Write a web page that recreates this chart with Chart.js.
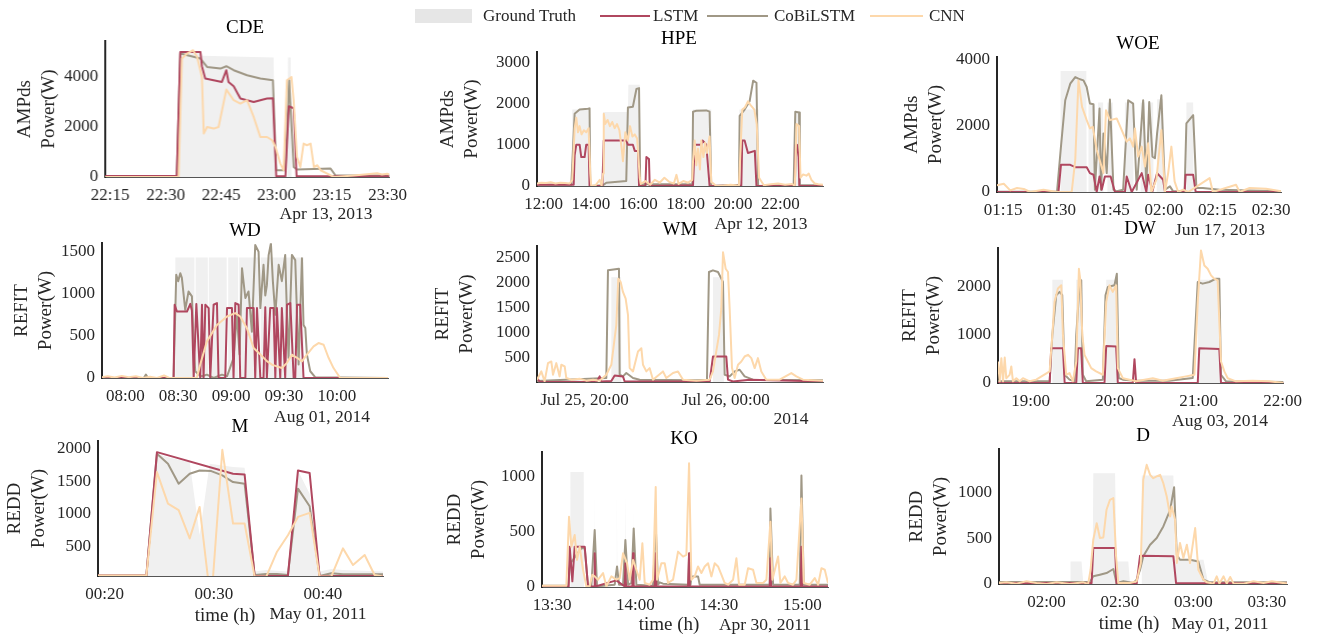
<!DOCTYPE html>
<html><head><meta charset="utf-8">
<script src="https://cdn.jsdelivr.net/npm/chart.js@4.4.1/dist/chart.umd.min.js"></script>
<style>
html,body{margin:0;padding:0;background:#fff;}
body{width:1325px;height:636px;position:relative;overflow:hidden;font-family:'Liberation Serif','Times New Roman',serif;color:#000;}
.t{position:absolute;transform:translate(-50%,-50%);white-space:nowrap;line-height:1.15;z-index:5;}
.l{position:absolute;transform:translate(0,-50%);white-space:nowrap;line-height:1.15;font-size:17px;color:#262626;z-index:5;}
canvas{position:absolute;}
</style></head><body>
<script>
// ---------- CDE (minutes after 22:00) ----------
const CDE_GT_X = [13.6, 33.0, 33.9, 39.4, 40.0, 59.2, 59.6, 62.9, 63.1, 63.8, 64.0, 90.6];
const CDE_GT_Y = [0, 0, 5000, 5000, 4850, 4780, 0, 0, 4780, 4780, 0, 0];
const CDE_LSTM_X = [13.6, 33.0, 33.95, 39.4, 39.8, 40.7, 45.2, 46.4, 47.0, 48.4, 50.2, 52.0, 53.8, 55.6, 57.4, 59.0, 59.9, 62.4, 63.3, 64.6, 65.4, 90.6];
const CDE_LSTM_Y = [40, 40, 5000, 5000, 4430, 3935, 3800, 4270, 3800, 3630, 3135, 3070, 3000, 3070, 3135, 3150, 30, 30, 2830, 2750, 30, 30];
const CDE_COBI_X = [13.6, 33.0, 33.95, 39.4, 41.2, 44.8, 46.4, 48.4, 52.0, 55.6, 59.0, 59.9, 62.4, 63.4, 64.6, 65.5, 74.6, 75.9, 90.6];
const CDE_COBI_Y = [30, 30, 4935, 4735, 4400, 4335, 4430, 4270, 4070, 3935, 3870, 270, 270, 3870, 400, 300, 335, 70, 60];
const CDE_CNN_X = [13.6, 33.5, 34.4, 35.8, 37.4, 38.5, 39.8, 40.3, 41.2, 43.0, 44.3, 46.4, 48.4, 50.2, 52.0, 53.8, 55.6, 57.4, 58.8, 59.7, 61.0, 61.9, 62.8, 64.0, 64.6, 65.5, 66.4, 67.3, 68.2, 69.2, 70.1, 71.0, 71.9, 73.7, 75.5, 80.9, 87.2, 88.5, 89.9, 90.6];
const CDE_CNN_Y = [0, 0, 4735, 4935, 5070, 4800, 4000, 1736, 2000, 1936, 2000, 3495, 3070, 2935, 3070, 2400, 1600, 1600, 1470, 1200, 535, 270, 3870, 4000, 3070, 800, 400, 1336, 1270, 1336, 400, 470, 270, 135, 0, 60, 150, 100, 130, 100];
const CDE_XTICKS = [15, 30, 45, 60, 75, 90];
const CDE_XLABELS = ['22:15', '22:30', '22:45', '23:00', '23:15', '23:30'];
const CDE_YTICKS = [0, 2000, 4000];

// ---------- HPE (hours) ----------
const HPE_GT_X = [11.72, 13.17, 13.21, 13.95, 13.97, 14.50, 14.52, 15.56, 15.58, 16.06, 16.08, 18.28, 18.30, 19.08, 19.10, 20.25, 20.27, 21.08, 21.10, 22.60, 22.62, 22.80, 22.82, 23.8];
const HPE_GT_Y = [0, 0, 1850, 1850, 0, 0, 1790, 1790, 2450, 2450, 0, 0, 1850, 1850, 0, 0, 1850, 1850, 0, 0, 1800, 1800, 0, 0];
const HPE_LSTM_X = [11.72, 13.27, 13.31, 13.38, 13.52, 13.59, 13.73, 13.80, 13.90, 13.94, 14.48, 14.54, 15.49, 15.56, 15.77, 15.85, 15.99, 16.03, 16.30, 16.34, 16.45, 16.48, 18.31, 18.38, 18.66, 18.72, 18.87, 19.01, 20.35, 20.39, 20.49, 20.63, 20.92, 20.99, 22.61, 22.65, 22.70, 22.77, 22.80, 23.8];
const HPE_LSTM_Y = [30, 30, 750, 1000, 1000, 700, 700, 1000, 1000, 0, 0, 1100, 1100, 1000, 1000, 850, 850, 0, 0, 700, 650, 0, 20, 1000, 1000, 1100, 1000, 0, 10, 1100, 1100, 800, 850, 0, 0, 1000, 1000, 700, 0, 0];
const HPE_COBI_X = [11.72, 13.17, 13.31, 13.52, 13.87, 13.94, 13.97, 14.51, 14.65, 15.49, 15.56, 15.77, 15.92, 16.03, 16.08, 18.28, 18.31, 18.45, 18.87, 19.01, 19.08, 20.25, 20.28, 20.49, 20.70, 20.85, 20.99, 21.06, 22.56, 22.63, 22.79, 22.82, 23.8];
const HPE_COBI_Y = [30, 30, 1750, 1850, 1870, 1880, 0, 20, 80, 120, 1900, 1920, 2350, 2370, 40, 50, 1800, 1820, 1830, 1800, 0, 30, 1700, 1850, 2050, 2550, 2500, 0, 30, 1800, 1780, 20, 20];
const HPE_CNN_X = [11.72, 11.9, 12.1, 12.3, 12.5, 12.7, 12.9, 13.1, 13.21, 13.31, 13.38, 13.45, 13.52, 13.6, 13.7, 13.8, 13.9, 13.97, 14.01, 14.2, 14.37, 14.45, 14.51, 14.54, 14.6, 14.7, 14.8, 14.9, 15.0, 15.1, 15.2, 15.3, 15.35, 15.45, 15.55, 15.65, 15.75, 15.85, 15.95, 16.06, 16.1, 16.3, 16.5, 16.7, 16.9, 17.1, 17.3, 17.5, 17.61, 17.7, 17.9, 18.1, 18.28, 18.31, 18.38, 18.45, 18.52, 18.6, 18.66, 18.75, 18.82, 18.9, 19.01, 19.08, 19.3, 19.6, 19.9, 20.1, 20.25, 20.39, 20.5, 20.63, 20.75, 20.9, 21.0, 21.1, 21.3, 21.6, 21.9, 22.2, 22.5, 22.61, 22.68, 22.79, 22.85, 22.96, 23.1, 23.2, 23.31, 23.45, 23.6, 23.8];
const HPE_CNN_Y = [60, 80, 70, 90, 60, 80, 70, 60, 150, 1400, 1650, 1300, 1450, 1250, 1350, 1300, 1400, 300, 0, 20, 150, 0, 300, 1750, 1500, 1600, 1450, 1550, 1400, 1500, 1350, 900, 600, 1300, 1100, 1450, 1200, 1250, 1150, 200, 50, 120, 30, 150, 80, 200, 100, 60, 270, 50, 120, 80, 150, 600, 1100, 500, 900, 400, 1100, 700, 1050, 800, 1200, 100, 0, 10, 30, 20, 0, 1850, 1900, 2050, 1950, 1850, 1500, 200, 20, 40, 60, 30, 50, 0, 1500, 1450, 200, 280, 250, 300, 150, 60, 40, 30];
const HPE_XTICKS = [12, 14, 16, 18, 20, 22];
const HPE_XLABELS = ['12:00', '14:00', '16:00', '18:00', '20:00', '22:00'];
const HPE_YTICKS = [0, 1000, 2000, 3000];

// ---------- WOE (minutes after 01:00) ----------
const WOE_GT_X = [13.3, 31.0, 31.1, 38.3, 38.4, 38.8, 38.9, 40.7, 40.8, 41.5, 41.6, 43.0, 43.1, 44.1, 44.2, 45.7, 45.8, 49.0, 49.1, 51.4, 51.5, 53.4, 53.5, 54.7, 54.8, 55.5, 55.6, 57.0, 57.1, 58.0, 58.1, 59.8, 59.9, 66.2, 66.3, 68.2, 68.3, 92.8];
const WOE_GT_Y = [0, 0, 3650, 3650, 0, 0, 2650, 2650, 0, 0, 2700, 2700, 0, 0, 2700, 2700, 0, 0, 2700, 2700, 0, 0, 2700, 2700, 0, 0, 2700, 2700, 0, 0, 2800, 2800, 0, 0, 2700, 2700, 0, 0];
const WOE_LSTM_X = [13.3, 30.5, 31.2, 33.8, 35.2, 38.4, 39.3, 40.3, 41.2, 42.0, 42.6, 43.5, 45.1, 46.3, 49.1, 49.6, 51.0, 53.8, 55.1, 55.6, 56.8, 58.1, 59.8, 60.3, 65.8, 66.1, 68.2, 68.9, 92.8];
const WOE_LSTM_Y = [0, 0, 820, 820, 750, 750, 570, 520, 0, 470, 70, 470, 470, 0, 0, 470, 0, 570, 0, 520, 20, 570, 370, 0, 0, 520, 520, 0, 0];
const WOE_COBI_X = [13.3, 30.1, 31.2, 32.4, 33.8, 35.2, 36.1, 37.5, 38.4, 39.3, 40.3, 40.7, 42.0, 42.4, 43.1, 44.0, 44.9, 45.9, 46.8, 48.6, 50.0, 51.4, 52.4, 54.2, 55.1, 55.9, 56.8, 57.5, 58.1, 59.3, 60.3, 61.7, 62.6, 65.8, 66.3, 68.2, 69.1, 70.9, 75.6, 92.8];
const WOE_COBI_Y = [10, 10, 1370, 2770, 3270, 3470, 3420, 3370, 3170, 2670, 2650, 70, 2520, 70, 1770, 570, 2790, 70, 20, 70, 2770, 2670, 70, 2770, 170, 2720, 1070, 1020, 1770, 2920, 70, 170, 20, 20, 2070, 2320, 120, 120, 70, 20];
const WOE_CNN_X = [13.3, 15.2, 17.0, 18.9, 20.8, 22.6, 26.3, 30.1, 34.2, 35.2, 36.1, 37.1, 38.4, 39.3, 40.1, 41.2, 43.1, 43.8, 44.9, 46.8, 48.6, 49.6, 50.5, 51.4, 51.9, 52.8, 53.8, 54.7, 55.6, 56.5, 57.9, 59.3, 60.3, 61.2, 62.1, 63.0, 64.0, 65.4, 66.8, 72.8, 73.7, 80.2, 81.2, 84.0, 88.6, 92.8];
const WOE_CNN_Y = [200, 250, 50, 120, 90, 0, 70, 0, 0, 970, 3370, 2570, 2170, 1920, 1970, 1270, 570, 2470, 2170, 2220, 1770, 1520, 1620, 1370, 1920, 1070, 1370, 770, 1470, 0, 370, 1870, 0, 570, 1370, 320, 0, 70, 0, 420, 0, 220, 0, 120, 100, 20];
const WOE_XTICKS = [15, 30, 45, 60, 75, 90];
const WOE_XLABELS = ['01:15', '01:30', '01:45', '02:00', '02:15', '02:30'];
const WOE_YTICKS = [0, 2000, 4000];

// ---------- WD (minutes after 08:00) ----------
const WD_GT_X = [-13.2, 28.3, 28.4, 39.2, 39.3, 39.8, 39.9, 46.8, 46.9, 47.3, 47.4, 57.5, 57.6, 58.3, 58.4, 64.0, 64.1, 64.5, 64.6, 76.2, 76.3, 76.7, 76.8, 101.1, 101.2, 149];
const WD_GT_Y = [0, 0, 1430, 1430, 0, 0, 1430, 1430, 0, 0, 1430, 1430, 0, 0, 1430, 1430, 0, 0, 1430, 1430, 0, 0, 1430, 1430, 0, 0];
const WD_LSTM_X = [-13.2, 27.4, 28.0, 29.3, 35.0, 36.9, 37.8, 38.8, 40.3, 40.6, 42.5, 43.5, 44.4, 45.4, 47.3, 48.2, 50.1, 52.0, 52.9, 56.7, 57.7, 60.5, 61.4, 62.4, 64.3, 65.2, 68.1, 69.0, 72.8, 73.7, 74.7, 76.6, 78.4, 79.4, 80.3, 82.2, 84.1, 85.1, 86.0, 87.9, 88.8, 90.7, 91.7, 93.6, 95.5, 96.4, 97.4, 99.2, 101.1, 149];
const WD_LSTM_Y = [0, 0, 870, 790, 790, 880, 800, 0, 880, 880, 0, 870, 0, 870, 830, 0, 870, 890, 0, 0, 830, 830, 0, 890, 870, 0, 0, 830, 830, 0, 830, 0, 0, 840, 0, 830, 830, 0, 830, 0, 830, 0, 870, 890, 0, 0, 870, 870, 0, 0];
const WD_COBI_X = [-13.2, 10.5, 11.7, 12.9, 27.4, 28.9, 30.0, 31.2, 32.1, 34.0, 35.9, 37.8, 38.8, 39.7, 41.6, 43.5, 46.3, 50.1, 54.8, 57.7, 61.4, 63.3, 64.8, 66.2, 68.1, 69.9, 71.8, 73.7, 75.6, 76.6, 78.4, 79.4, 80.3, 81.3, 82.6, 83.7, 85.1, 87.0, 88.8, 90.7, 91.7, 92.6, 94.5, 96.4, 98.3, 100.2, 101.1, 102.1, 103.0, 104.9, 107.8, 149];
const WD_COBI_Y = [0, 0, 40, 0, 0, 1225, 1150, 1245, 1190, 810, 1028, 970, 360, 80, 40, 20, 40, 0, 40, 20, 237, 750, 280, 1304, 950, 1028, 550, 1580, 1500, 830, 1344, 980, 1100, 1460, 1600, 1150, 750, 1344, 1150, 1462, 750, 237, 1462, 1400, 160, 1423, 630, 593, 280, 80, 8, 0];
const WD_CNN_X = [-13.2, -10, -6, -2, 2, 6, 10, 14, 18, 22, 25, 28, 40.6, 42.5, 46.3, 52.0, 57.7, 62.4, 65.2, 69.0, 72.8, 76.6, 80.3, 83.2, 86.0, 88.8, 91.7, 94.5, 97.4, 100.2, 103.0, 106.8, 109.6, 112.5, 115.3, 118.1, 121.9, 149];
const WD_CNN_Y = [10, 20, 5, 25, 10, 20, 0, 15, 0, 30, 0, 0, 0, 160, 435, 630, 730, 770, 730, 590, 356, 280, 200, 158, 138, 118, 180, 277, 240, 198, 277, 375, 415, 395, 240, 118, 0, 0];
const WD_XTICKS = [0, 30, 60, 90, 120];
const WD_XLABELS = ['08:00', '08:30', '09:00', '09:30', '10:00'];
const WD_YTICKS = [0, 500, 1000, 1500];

// ---------- WM (minutes after Jul 25 20:00) ----------
const WM_GT_X = [-81.1, 45.0, 45.4, 62.0, 62.4, 218.0, 218.4, 236.6, 237.0, 405.7];
const WM_GT_Y = [0, 0, 2110, 2110, 0, 0, 2110, 2110, 0, 0];
const WM_LSTM_X = [-81.1, -76.6, -70, 20, 25.5, 28.4, 45.4, 51.1, 65.2, 68.1, 212.8, 218.4, 241.1, 244.0, 252.5, 280.9, 405.7];
const WM_LSTM_Y = [80, 10, 0, 0, 113, 10, 20, 133, 113, 10, 10, 513, 513, 47, 10, 47, 10];
const WM_COBI_X = [-81.1, 36.9, 39.7, 58.4, 59.6, 65.2, 70.9, 82.3, 93.6, 190.1, 208.2, 211.6, 218.4, 227.0, 232.6, 235.5, 238.3, 246.8, 255.3, 263.8, 272.3, 286.5, 405.7];
const WM_COBI_Y = [20, 80, 2247, 2280, 147, 113, 180, 80, 47, 33, 47, 2213, 2247, 2213, 2080, 2013, 147, 113, 213, 247, 113, 47, 33];
const WM_CNN_X = [-81.1, -73.8, -68.1, -62.4, -56.7, -53.9, -48.2, -42.6, -39.7, -34.0, -31.2, -22.7, -8.5, 2.8, 14.2, 25.5, 36.9, 45.4, 53.9, 57.3, 61.3, 65.2, 69.8, 73.8, 76.6, 82.3, 87.9, 90.8, 96.5, 99.3, 105.0, 110.6, 116.3, 133.3, 139.0, 150.4, 158.9, 167.4, 190.1, 212.8, 218.4, 228.7, 232.6, 235.5, 240.0, 244.0, 246.8, 250.8, 255.3, 261.0, 266.7, 272.3, 278.0, 283.7, 289.4, 295.0, 300.7, 309.2, 331.9, 351.8, 360.3, 371.6, 405.7];
const WM_CNN_Y = [47, 213, 13, 380, 413, 147, 380, 113, 347, 313, 80, 47, 67, 27, 47, 27, 147, 347, 1147, 2080, 2013, 1813, 1680, 1347, 280, 213, 480, 613, 680, 347, 213, 280, 47, 213, 80, 180, 213, 47, 27, 47, 213, 947, 1480, 2613, 2280, 2213, 1480, 280, 80, 347, 413, 513, 547, 480, 280, 480, 213, 47, 47, 180, 113, 47, 27];
const WM_XTICKS = [0, 240];
const WM_XLABELS = ['Jul 25, 20:00', 'Jul 26, 00:00'];
const WM_YTICKS = [500, 1000, 1500, 2000, 2500];

// ---------- DW (minutes after 19:00) ----------
const DW_GT_X = [-23.3, 15.4, 15.5, 23.1, 23.2, 32.5, 32.6, 37.3, 37.4, 53.9, 54.0, 61.6, 61.7, 119.3, 119.4, 135.3, 135.4, 180.7];
const DW_GT_Y = [0, 0, 2150, 2150, 0, 0, 2150, 2150, 0, 0, 2150, 2150, 0, 0, 2150, 2150, 0, 0];
const DW_LSTM_X = [-23.3, 13.6, 14.7, 23.1, 24.3, 32.6, 33.8, 36.1, 37.3, 52.8, 54.0, 61.1, 62.3, 73.0, 74.2, 75.4, 119.4, 120.5, 134.8, 136.0, 180.7];
const DW_LSTM_Y = [0, 0, 724, 724, 0, 0, 724, 724, 0, 0, 772, 758, 0, 0, 496, 0, 0, 724, 710, 0, 0];
const DW_COBI_X = [-23.3, 13.6, 15.5, 18.3, 20.7, 22.6, 24.3, 27.8, 31.4, 32.6, 34.5, 36.1, 37.3, 39.7, 51.6, 53.5, 55.2, 59.9, 61.6, 63.0, 65.9, 75.4, 99.1, 115.8, 119.4, 122.9, 127.7, 132.4, 134.8, 136.0, 139.6, 180.7];
const DW_COBI_Y = [35, 35, 1000, 1828, 1897, 1828, 172, 70, 35, 1000, 1828, 2138, 172, 35, 70, 1828, 2000, 2034, 2276, 103, 70, 48, 48, 103, 2103, 2069, 2103, 2172, 2172, 172, 35, 20];
const DW_CNN_X = [-23.3, -22.1, -20.9, -19.7, -18.5, -17.4, -15.0, -13.8, -12.6, -10.2, -7.8, -5.5, -0.7, 4.0, 13.6, 15.5, 17.1, 19.5, 21.9, 23.1, 25.4, 27.8, 30.2, 32.6, 34.5, 35.4, 36.9, 38.5, 40.9, 43.3, 46.8, 51.6, 54.0, 56.3, 58.7, 61.1, 62.3, 65.9, 75.4, 87.3, 94.4, 103.9, 111.0, 117.0, 119.4, 121.7, 124.1, 126.5, 128.9, 131.2, 133.6, 136.0, 138.4, 140.8, 146.7, 158.6, 170.5, 180.7];
const DW_CNN_Y = [448, 35, 517, 35, 530, 100, 170, 345, 35, 100, 35, 100, 35, 70, 241, 1000, 1690, 1966, 2034, 1000, 172, 207, 35, 448, 2379, 2172, 1000, 586, 448, 310, 241, 172, 1690, 2034, 1897, 2034, 310, 100, 35, 100, 48, 100, 138, 172, 1690, 2759, 2448, 2379, 2241, 2172, 2138, 448, 241, 100, 35, 48, 35, 0];
const DW_XTICKS = [0, 60, 120, 180];
const DW_XLABELS = ['19:00', '20:00', '21:00', '22:00'];
const DW_YTICKS = [0, 1000, 2000];

// ---------- M (minutes after 00:00) ----------
const M_GT_X = [19.39, 23.82, 24.79, 25.80, 26.78, 27.79, 28.70, 29.62, 30.78, 31.76, 32.82, 33.74, 34.81, 36.79, 37.71, 38.78, 39.69, 40.76, 41.83, 45.50];
const M_GT_Y = [44, 44, 1923, 1872, 1831, 1795, 669, 1770, 1744, 1718, 1708, 106, 131, 106, 1667, 1309, 106, 147, 131, 106];
const M_LSTM_X = [19.39, 23.82, 24.79, 31.76, 32.82, 33.74, 36.79, 37.71, 38.78, 39.69, 45.50];
const M_LSTM_Y = [44, 44, 1949, 1616, 1606, 39, 39, 1667, 1626, 39, 39];
const M_COBI_X = [19.39, 23.82, 24.79, 25.80, 26.78, 27.79, 28.70, 29.77, 30.78, 31.76, 32.82, 33.74, 34.81, 35.79, 36.79, 37.71, 38.78, 39.69, 40.76, 41.83, 43.82, 45.50];
const M_COBI_Y = [44, 44, 1923, 1770, 1462, 1616, 1667, 1657, 1590, 1488, 1462, 54, 70, 70, 54, 1386, 1114, 39, 80, 65, 65, 65];
const M_CNN_X = [19.39, 23.82, 24.79, 25.80, 26.78, 27.79, 28.70, 29.47, 29.92, 30.78, 31.76, 32.82, 33.74, 34.81, 35.79, 36.79, 37.71, 38.78, 39.69, 40.76, 41.83, 42.75, 43.82, 44.73, 45.50];
const M_CNN_Y = [44, 44, 1642, 1155, 1053, 618, 1104, 0, 0, 1985, 848, 848, 29, 29, 413, 667, 950, 1012, 29, 29, 464, 208, 362, 54, 29];
const M_XTICKS = [20, 30, 40];
const M_XLABELS = ['00:20', '00:30', '00:40'];
const M_YTICKS = [500, 1000, 1500, 2000];

// ---------- KO (minutes after 13:30) ----------
const KO_GT_X = [-3.6, 6.5, 6.6, 11.4, 11.5, 15.1, 15.3, 15.5, 23.1, 23.3, 23.5, 26.2, 26.4, 26.6, 28.9, 29.1, 29.3, 99.2];
const KO_GT_Y = [0, 0, 1040, 1040, 0, 0, 900, 0, 0, 900, 0, 0, 850, 0, 0, 800, 0, 0];
const KO_LSTM_X = [-3.6, 6.0, 6.35, 7.31, 8.15, 11.75, 12.94, 15.1, 15.34, 15.58, 23.13, 26.13, 26.37, 26.61, 28.88, 29.12, 29.36, 36.91, 37.27, 37.51, 48.9, 49.26, 49.50, 78.26, 78.5, 78.74, 89.41, 89.65, 89.89, 99.2];
const KO_LSTM_Y = [5, 5, 365, 51, 365, 365, 5, 5, 305, 5, 60, 5, 215, 5, 5, 305, 5, 5, 305, 5, 5, 305, 5, 5, 260, 5, 5, 365, 5, 5];
const KO_COBI_X = [-3.6, 5.75, 6.59, 7.55, 8.75, 10.55, 11.75, 12.94, 14.14, 15.34, 16.18, 22.53, 23.37, 24.09, 25.53, 26.37, 27.33, 28.52, 29.36, 30.32, 36.31, 37.27, 38.11, 38.71, 39.91, 49.0, 49.26, 49.8, 50.10, 52.49, 53.09, 78.26, 78.50, 79.46, 89.05, 89.65, 90.49, 99.2];
const KO_COBI_Y = [12, 12, 215, 245, 290, 350, 350, 6, 6, 515, 6, 21, 186, 21, 21, 425, 21, 36, 530, 21, 12, 560, 21, 42, 30, 21, 300, 21, 96, 96, 21, 21, 710, 21, 21, 1009, 21, 21];
const KO_CNN_X = [-3.6, 5.15, 6.11, 6.95, 8.15, 8.99, 9.95, 11.15, 12.34, 13.54, 14.50, 15.34, 16.54, 18.34, 19.53, 21.33, 23.13, 24.33, 25.53, 26.97, 27.92, 29.12, 30.32, 31.52, 32.48, 33.32, 35.12, 36.31, 37.27, 37.75, 39.31, 40.51, 41.71, 43.50, 45.30, 47.10, 48.30, 49.26, 50.10, 51.29, 52.49, 53.69, 54.89, 56.09, 57.29, 58.48, 59.68, 60.88, 62.08, 63.28, 65.08, 66.28, 67.23, 69.27, 70.47, 72.27, 73.47, 75.86, 77.06, 78.50, 79.22, 81.26, 82.09, 83.65, 84.85, 86.65, 87.85, 89.65, 90.49, 92.64, 94.44, 95.64, 96.84, 98.04, 99.2];
const KO_CNN_Y = [12, 12, 635, 365, 470, 245, 365, 156, 6, 6, 110, 96, 66, 126, 6, 96, 66, 81, 305, 215, 66, 245, 156, 66, 395, 36, 21, 66, 904, 66, 215, 215, 36, 66, 320, 275, 290, 1120, 66, 96, 186, 126, 186, 215, 96, 215, 186, 111, 36, 21, 66, 260, 21, 21, 170, 156, 36, 36, 66, 590, 66, 275, 36, 96, 36, 21, 66, 800, 36, 21, 81, 21, 170, 156, 36];
const KO_XTICKS = [0, 30, 60, 90];
const KO_XLABELS = ['13:30', '14:00', '14:30', '15:00'];
const KO_YTICKS = [0, 500, 1000];

// ---------- D (minutes after 02:00) ----------
const D_GT_X = [-19.4, 9.6, 9.8, 14.3, 15.0, 18.8, 19.1, 28.0, 28.6, 33.4, 34.1, 38.8, 38.9, 51.8, 52.5, 64.1, 65.5, 66.0, 98.2];
const D_GT_Y = [0, 0, 247, 247, 20, 20, 1211, 1211, 247, 247, 0, 0, 1185, 1185, 265, 265, 80, 0, 0];
const D_LSTM_X = [-19.4, 18.4, 19.1, 28.0, 28.6, 36.8, 38.2, 51.8, 52.9, 98.2];
const D_LSTM_Y = [10, 10, 393, 393, 0, 0, 309, 302, 10, 5];
const D_COBI_X = [-19.4, 17.7, 19.1, 21.8, 24.5, 27.3, 28.6, 31.4, 35.5, 36.8, 38.2, 39.5, 42.3, 45.0, 47.7, 50.5, 52.1, 53.2, 54.5, 58.6, 62.0, 64.1, 66.8, 98.2];
const D_COBI_Y = [22, 22, 84, 102, 120, 164, 11, 29, 11, 47, 156, 302, 429, 502, 629, 811, 1058, 320, 265, 265, 247, 47, 18, 18];
const D_CNN_X = [-19.4, -16.4, -12.3, -8.2, -4.1, 0, 4.1, 9.5, 15.0, 17.0, 18.0, 19.1, 20.5, 21.8, 23.2, 24.5, 25.9, 27.3, 28.4, 29.3, 34.1, 36.8, 38.5, 39.5, 40.9, 42.3, 43.6, 45.0, 46.4, 47.7, 49.1, 50.5, 51.1, 52.5, 53.2, 54.5, 55.9, 57.3, 58.6, 60.7, 62.0, 64.1, 65.5, 68.2, 69.5, 70.6, 72.3, 73.6, 75.0, 76.4, 80.5, 84.5, 88.6, 92.0, 98.2];
const D_CNN_Y = [11, 18, 4, 29, 11, 0, 18, 0, 18, 0, 156, 484, 665, 502, 509, 811, 920, 938, 302, 11, 11, 29, 229, 1138, 1302, 1193, 1156, 1175, 1193, 1102, 956, 738, 847, 702, 229, 447, 284, 429, 229, 611, 156, 47, 18, 4, 84, 4, 84, 4, 77, 4, 4, 29, 11, 29, 4];
const D_XTICKS = [0, 30, 60, 90];
const D_XLABELS = ['02:00', '02:30', '03:00', '03:30'];
const D_YTICKS = [0, 500, 1000];

// ---------- styling / layout ----------
const FONT = "'Liberation Serif','Times New Roman',serif";
const C_LSTM = '#b0475f', C_COBI = '#a09886', C_CNN = '#fdd8ab', C_GT = '#f0f0f0';

const PANELS = [
  {title:'CDE', tpos:[245,27], box:[105,41,389,177], yw:92, x:[13.65,90.5], y:[0,5430], ylabel:['AMPds','Power(W)'],
   gt:[CDE_GT_X,CDE_GT_Y], lstm:[CDE_LSTM_X,CDE_LSTM_Y], cobi:[CDE_COBI_X,CDE_COBI_Y], cnn:[CDE_CNN_X,CDE_CNN_Y], xt:CDE_XTICKS, xl:CDE_XLABELS, yt:CDE_YTICKS,
   notes:[['Apr 13, 2013',326,213]]},
  {title:'HPE', tpos:[679,38], box:[537,52,823,186], yw:101, x:[11.72,23.8], y:[0,3240], ylabel:['AMPds','Power(W)'],
   gt:[HPE_GT_X,HPE_GT_Y], lstm:[HPE_LSTM_X,HPE_LSTM_Y], cobi:[HPE_COBI_X,HPE_COBI_Y], cnn:[HPE_CNN_X,HPE_CNN_Y], xt:HPE_XTICKS, xl:HPE_XLABELS, yt:HPE_YTICKS,
   notes:[['Apr 12, 2013',761,223]]},
  {title:'WOE', tpos:[1138,43], box:[997,57,1282,192], yw:97, x:[13.3,92.8], y:[0,4070], ylabel:['AMPds','Power(W)'],
   gt:[WOE_GT_X,WOE_GT_Y], lstm:[WOE_LSTM_X,WOE_LSTM_Y], cobi:[WOE_COBI_X,WOE_COBI_Y], cnn:[WOE_CNN_X,WOE_CNN_Y], xt:WOE_XTICKS, xl:WOE_XLABELS, yt:WOE_YTICKS,
   notes:[['Jun 17, 2013',1220,229]]},
  {title:'WD', tpos:[245,230], box:[102,243,388,378], yw:92, x:[-13.2,149], y:[0,1601], ylabel:['REFIT','Power(W)'],
   gt:[WD_GT_X,WD_GT_Y], lstm:[WD_LSTM_X,WD_LSTM_Y], cobi:[WD_COBI_X,WD_COBI_Y], cnn:[WD_CNN_X,WD_CNN_Y], xt:WD_XTICKS, xl:WD_XLABELS, yt:WD_YTICKS,
   notes:[['Aug 01, 2014',322,416]]},
  {title:'WM', tpos:[680,229], box:[537,246,823,382], yw:106, x:[-81.1,405.7], y:[0,2733], ylabel:['REFIT','Power(W)'],
   gt:[WM_GT_X,WM_GT_Y], lstm:[WM_LSTM_X,WM_LSTM_Y], cobi:[WM_COBI_X,WM_COBI_Y], cnn:[WM_CNN_X,WM_CNN_Y], xt:WM_XTICKS, xl:WM_XLABELS, yt:WM_YTICKS,
   notes:[['2014',791,418]]},
  {title:'DW', tpos:[1140,228], box:[998,248,1284,383], yw:100, x:[-23.3,180.7], y:[0,2807], ylabel:['REFIT','Power(W)'],
   gt:[DW_GT_X,DW_GT_Y], lstm:[DW_LSTM_X,DW_LSTM_Y], cobi:[DW_COBI_X,DW_COBI_Y], cnn:[DW_CNN_X,DW_CNN_Y], xt:DW_XTICKS, xl:DW_XLABELS, yt:DW_YTICKS,
   notes:[['Aug 03, 2014',1220,420]]},
  {title:'M', tpos:[240,426], box:[98,441,383,576], yw:95, x:[19.39,45.5], y:[38,2118], ylabel:['REDD','Power(W)'],
   gt:[M_GT_X,M_GT_Y], lstm:[M_LSTM_X,M_LSTM_Y], cobi:[M_COBI_X,M_COBI_Y], cnn:[M_CNN_X,M_CNN_Y], xt:M_XTICKS, xl:M_XLABELS, yt:M_YTICKS,
   notes:[['May 01, 2011',318,613]], time:[225,615]},
  {title:'KO', tpos:[684,438], box:[542,452,828,587], yw:99, x:[-3.6,99.2], y:[0,1219], ylabel:['REDD','Power(W)'],
   gt:[KO_GT_X,KO_GT_Y], lstm:[KO_LSTM_X,KO_LSTM_Y], cobi:[KO_COBI_X,KO_COBI_Y], cnn:[KO_CNN_X,KO_CNN_Y], xt:KO_XTICKS, xl:KO_XLABELS, yt:KO_YTICKS,
   notes:[['Apr 30, 2011',765,624]], time:[669,624]},
  {title:'D', tpos:[1143,435], box:[999,449,1287,584], yw:94, x:[-19.4,98.2], y:[0,1473], ylabel:['REDD','Power(W)'],
   gt:[D_GT_X,D_GT_Y], lstm:[D_LSTM_X,D_LSTM_Y], cobi:[D_COBI_X,D_COBI_Y], cnn:[D_CNN_X,D_CNN_Y], xt:D_XTICKS, xl:D_XLABELS, yt:D_YTICKS,
   notes:[['May 01, 2011',1220,623]], time:[1129,623]}
];

const LEGEND_LABELS = ['Ground Truth', 'LSTM', 'CoBiLSTM', 'CNN'];

function pts(xs, ys) { return xs.map((x, i) => ({x: x, y: ys[i]})); }

function addText(txt, x, y, size, cls) {
  const d = document.createElement('div');
  d.className = cls || 't';
  d.textContent = txt;
  d.style.left = x + 'px'; d.style.top = y + 'px';
  if (size) d.style.fontSize = size + 'px';
  document.body.appendChild(d);
  return d;
}

function cfg(p) {
  const line = (label, s, color, order) => ({label, data: pts(s[0], s[1]), borderColor: color, backgroundColor: color,
      borderWidth: 2, pointRadius: 0, tension: 0, fill: false, order, borderJoinStyle: 'round'});
  const gt = {label: 'Ground Truth', data: pts(p.gt[0], p.gt[1]), borderColor: 'rgba(0,0,0,0)', borderWidth: 0,
      backgroundColor: C_GT, pointRadius: 0, tension: 0, fill: 'origin', order: 3};
  return {
    type: 'line',
    data: {datasets: [line('CNN', p.cnn, C_CNN, 0), line('LSTM', p.lstm, C_LSTM, 1), line('CoBiLSTM', p.cobi, C_COBI, 2), gt]},
    options: {
      responsive: false, animation: false, events: [], devicePixelRatio: 1,
      layout: {padding: {top: 14, right: 16, left: 0, bottom: 0}},
      plugins: {legend: {display: false}, tooltip: {enabled: false}, title: {display: false}},
      scales: {
        x: {type: 'linear', min: p.x[0], max: p.x[1],
            grid: {display: false, drawTicks: false},
            border: {display: true, color: '#555', width: 1},
            afterBuildTicks: s => { s.ticks = p.xt.map(v => ({value: v})); },
            afterFit: s => { s.height = 46; },
            ticks: {autoSkip: false, maxRotation: 0, minRotation: 0, padding: 8, color: '#262626',
                    font: {family: FONT, size: 17}, callback: (v, i) => p.xl[i]}},
        y: {type: 'linear', min: p.y[0], max: p.y[1],
            grid: {display: false, drawTicks: false},
            border: {display: true, color: '#262626', width: 2},
            afterBuildTicks: s => { s.ticks = p.yt.map(v => ({value: v})); },
            afterFit: s => { s.width = p.yw; },
            ticks: {padding: 7, color: '#262626', font: {family: FONT, size: 17}, callback: v => String(v)},
            title: {display: true, text: p.ylabel, color: '#262626', padding: {top: 0, bottom: 0},
                    font: {family: FONT, size: 19, lineHeight: 1.26}}}
      }
    }
  };
}

function build(p) {
  const [L, T, R, B] = p.box;
  const canvas = document.createElement('canvas');
  document.body.appendChild(canvas);
  const make = (w, h) => {
    canvas.width = w; canvas.height = h;
    canvas.style.width = w + 'px'; canvas.style.height = h + 'px';
    return new Chart(canvas, cfg(p));
  };
  let w = (R - L) + p.yw + 30, h = (B - T) + 70;
  let chart = make(w, h);
  let a = chart.chartArea;
  w += (R - L) - (a.right - a.left);
  h += (B - T) - (a.bottom - a.top);
  chart.destroy();
  chart = make(w, h);
  a = chart.chartArea;
  canvas.style.left = (L - a.left) + 'px';
  canvas.style.top = (T - a.top) + 'px';
}

PANELS.forEach(p => {
  build(p);
  addText(p.title, p.tpos[0], p.tpos[1], 19);
  p.notes.forEach(n => addText(n[0], n[1], n[2], 17.5).style.color = '#262626');
  if (p.time) addText('time (h)', p.time[0], p.time[1], 19).style.color = '#262626';
});

// legend
(function () {
  const patch = document.createElement('div');
  Object.assign(patch.style, {position: 'absolute', left: '415px', top: '9px', width: '57px', height: '14px', background: '#e6e6e6'});
  document.body.appendChild(patch);
  addText(LEGEND_LABELS[0], 483, 16, null, 'l');
  const seg = (x1, x2, c) => {
    const d = document.createElement('div');
    Object.assign(d.style, {position: 'absolute', left: x1 + 'px', top: '15px', width: (x2 - x1) + 'px', height: '2px', background: c});
    document.body.appendChild(d);
  };
  seg(600, 650, C_LSTM); addText(LEGEND_LABELS[1], 653, 16, null, 'l');
  seg(707, 768, C_COBI); addText(LEGEND_LABELS[2], 774, 16, null, 'l');
  seg(870, 923, C_CNN); addText(LEGEND_LABELS[3], 929, 16, null, 'l');
})();
</script>
</body></html>
